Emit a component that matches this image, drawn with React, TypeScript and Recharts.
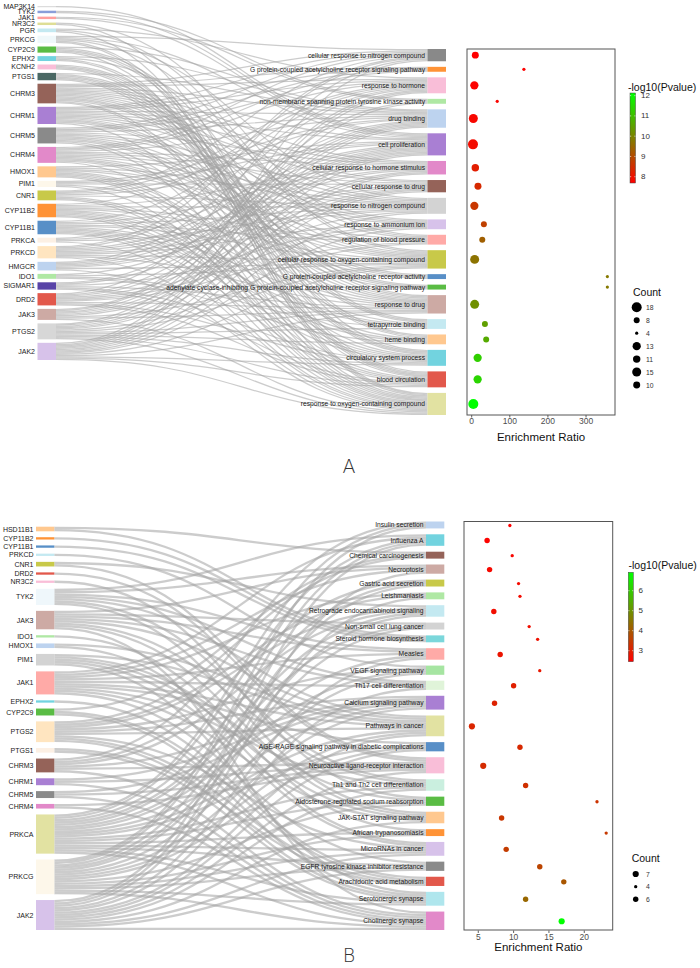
import React from 'react';
import { Sankey, ScatterChart, Scatter, XAxis, YAxis, ZAxis } from 'recharts';

const FONT = '"Liberation Sans", Arial, Helvetica, sans-serif';

/* ======================= Panel A data ======================= */
const genesA = ['MAP3K14', 'TYK2', 'JAK1', 'NR3C2', 'PGR', 'PRKCG', 'CYP2C9', 'EPHX2', 'KCNH2', 'PTGS1', 'CHRM3', 'CHRM1', 'CHRM5', 'CHRM4', 'HMOX1', 'PIM1', 'CNR1', 'CYP11B2', 'CYP11B1', 'PRKCA', 'PRKCD', 'HMGCR', 'IDO1', 'SIGMAR1', 'DRD2', 'JAK3', 'PTGS2', 'JAK2'];
const termsA = [
  'cellular response to nitrogen compound',
  'G protein-coupled acetylcholine receptor signaling pathway',
  'response to hormone',
  'non-membrane spanning protein tyrosine kinase activity',
  'drug binding',
  'cell proliferation',
  'cellular response to hormone stimulus',
  'cellular response to drug',
  'response to nitrogen compound',
  'response to ammonium ion',
  'regulation of blood pressure',
  'cellular response to oxygen-containing compound',
  'G protein-coupled acetylcholine receptor activity',
  'adenylate cyclase-inhibiting G protein-coupled acetylcholine receptor signaling pathway',
  'response to drug',
  'tetrapyrrole binding',
  'heme binding',
  'circulatory system process',
  'blood circulation',
  'response to oxygen-containing compound',
];
// gene -> term numbers (1-based, order of termsA)
const geneTermsA: [string, number[]][] = [
  ['MAP3K14', [6]],
  ['TYK2', [4, 6]],
  ['JAK1', [4, 6]],
  ['NR3C2', [11, 18]],
  ['PGR', [3, 12, 20]],
  ['PRKCG', [1, 6, 9, 12, 19, 20]],
  ['CYP2C9', [5, 15, 16, 17, 20]],
  ['EPHX2', [5, 11, 18, 19]],
  ['KCNH2', [16, 17, 18, 19]],
  ['PTGS1', [5, 15, 16, 17, 18, 19]],
  ['CHRM3', [1, 2, 3, 5, 6, 7, 8, 9, 10, 11, 12, 13, 14, 15, 19, 20]],
  ['CHRM1', [1, 2, 3, 5, 6, 7, 8, 9, 10, 12, 13, 14, 15, 20]],
  ['CHRM5', [1, 2, 3, 5, 7, 9, 10, 12, 13, 14, 15, 18, 20]],
  ['CHRM4', [1, 2, 3, 5, 7, 8, 9, 10, 12, 13, 14, 15, 20]],
  ['HMOX1', [6, 9, 11, 12, 16, 17, 18, 19, 20]],
  ['PIM1', [5, 6, 8, 15, 20]],
  ['CNR1', [1, 3, 5, 6, 9, 18, 19, 20]],
  ['CYP11B2', [3, 7, 9, 11, 12, 15, 16, 17, 18, 19, 20]],
  ['CYP11B1', [3, 7, 9, 11, 12, 15, 16, 17, 18, 19, 20]],
  ['PRKCA', [1, 6, 9, 20]],
  ['PRKCD', [1, 3, 6, 7, 8, 9, 10, 12, 15, 20]],
  ['HMGCR', [3, 5, 6, 7, 8, 12, 20]],
  ['IDO1', [6, 12, 16, 17]],
  ['SIGMAR1', [5, 6, 10, 15, 18, 19]],
  ['DRD2', [1, 5, 6, 8, 9, 10, 11, 15, 18, 19]],
  ['JAK3', [3, 4, 5, 6, 7, 8, 12, 15, 20]],
  ['PTGS2', [3, 5, 6, 7, 8, 11, 12, 15, 16, 17, 18, 19, 20]],
  ['JAK2', [1, 3, 4, 5, 6, 7, 8, 9, 10, 12, 15, 18, 19, 20]],
];
const enrichA = [9.5, 137, 7, 67, 4.3, 3.4, 9.5, 16.5, 7, 32, 27.8, 7.8, 356, 356, 7.8, 34.7, 38, 15.6, 15.6, 4.3];
const log10pA = [7.69, 7.72, 7.75, 7.78, 7.82, 7.9, 8.2, 8.4, 8.65, 8.8, 9.35, 9.7, 9.8, 9.8, 10.2, 10.45, 10.65, 11.3, 11.4, 12.13];
const countA = [10, 4, 13, 4, 15, 18, 11, 10, 13, 8, 8, 15, 4, 4, 15, 8, 8, 13, 13, 18];
const countLegendA = [18, 8, 4, 13, 11, 15, 10];
const xTicksA = [0, 100, 200, 300];
const colorTicksA = [8, 9, 10, 11, 12];
const colorRangeA: [number, number] = [7.69, 12.13];

/* ======================= Panel B data ======================= */
const genesB = ['HSD11B1', 'CYP11B2', 'CYP11B1', 'PRKCD', 'CNR1', 'DRD2', 'NR3C2', 'TYK2', 'JAK3', 'IDO1', 'HMOX1', 'PIM1', 'JAK1', 'EPHX2', 'CYP2C9', 'PTGS2', 'PTGS1', 'CHRM3', 'CHRM1', 'CHRM5', 'CHRM4', 'PRKCA', 'PRKCG', 'JAK2'];
const termsB = [
  'Insulin secretion',
  'Influenza A',
  'Chemical carcinogenesis',
  'Necroptosis',
  'Gastric acid secretion',
  'Leishmaniasis',
  'Retrograde endocannabinoid signaling',
  'Non-small cell lung cancer',
  'Steroid hormone biosynthesis',
  'Measles',
  'VEGF signaling pathway',
  'Th17 cell differentiation',
  'Calcium signaling pathway',
  'Pathways in cancer',
  'AGE-RAGE signaling pathway in diabetic complications',
  'Neuroactive ligand-receptor interaction',
  'Th1 and Th2 cell differentiation',
  'Aldosterone-regulated sodium reabsorption',
  'JAK-STAT signaling pathway',
  'African trypanosomiasis',
  'MicroRNAs in cancer',
  'EGFR tyrosine kinase inhibitor resistance',
  'Arachidonic acid metabolism',
  'Serotonergic synapse',
  'Cholinergic synapse',
];
const geneTermsB: [string, number[]][] = [
  ['HSD11B1', [3, 9]],
  ['CYP11B2', [9]],
  ['CYP11B1', [9]],
  ['PRKCD', [11]],
  ['CNR1', [7, 16]],
  ['DRD2', [16]],
  ['NR3C2', [18]],
  ['TYK2', [2, 4, 10, 12, 14, 17, 19]],
  ['JAK3', [4, 8, 10, 12, 14, 17, 19, 25]],
  ['IDO1', [20]],
  ['HMOX1', [14, 21]],
  ['PIM1', [14, 18, 19, 21, 24]],
  ['JAK1', [2, 4, 6, 10, 12, 14, 15, 17, 19, 22]],
  ['EPHX2', [23]],
  ['CYP2C9', [3, 23, 24]],
  ['PTGS2', [3, 6, 7, 11, 13, 14, 21, 23, 24]],
  ['PTGS1', [23, 24]],
  ['CHRM3', [1, 5, 7, 13, 16, 25]],
  ['CHRM1', [13, 16, 25]],
  ['CHRM5', [13, 16, 25]],
  ['CHRM4', [16, 25]],
  ['PRKCA', [1, 2, 5, 7, 8, 10, 11, 13, 14, 15, 17, 18, 20, 21, 22, 24, 25]],
  ['PRKCG', [1, 2, 5, 7, 8, 11, 13, 14, 15, 18, 20, 21, 22, 24, 25]],
  ['JAK2', [2, 4, 6, 10, 12, 14, 15, 16, 17, 19, 21, 22, 25]],
];
const enrichB = [9.47, 6.25, 9.8, 6.6, 10.7, 10.9, 7.2, 12.2, 13.4, 8.1, 13.7, 10.0, 7.3, 4.1, 10.9, 5.7, 11.7, 21.8, 8.3, 23.1, 8.95, 13.7, 17.1, 11.7, 16.8];
const log10pB = [2.45, 2.5, 2.55, 2.6, 2.62, 2.65, 2.68, 2.7, 2.75, 2.8, 2.85, 3.0, 3.05, 3.1, 3.15, 3.2, 3.3, 3.35, 3.4, 3.45, 3.5, 3.65, 3.95, 4.25, 6.92];
const countB = [4, 6, 4, 6, 4, 4, 6, 4, 4, 6, 4, 6, 6, 7, 6, 7, 6, 4, 6, 4, 6, 6, 6, 6, 7];
const countLegendB = [7, 4, 6];
const xTicksB = [5, 10, 15, 20];
const colorTicksB = [3, 4, 5, 6];
const colorRangeB: [number, number] = [2.45, 6.92];

/* ======================= Styles ======================= */
const geneColorsA = ['#d9d9d9', '#7f96d6', '#ff9896', '#dbdb8d', '#bfe7f0', '#eef7fa', '#4cb634', '#66cfdc', '#f9b9d5', '#3b5b57', '#8c564b', '#a274cf', '#808080', '#e07fc4', '#ffc386', '#fdf6e8', '#c3c43a', '#ff8a25', '#4a86c2', '#fcefe2', '#ffe3bb', '#b7cfee', '#a8e69c', '#4a33a0', '#e04a3c', '#c9a39c', '#d4d4d4', '#d4bde8'];
const termColorsA = ['#7f7f7f', '#ff8a25', '#f9b9d5', '#a8e69c', '#b7cfee', '#a274cf', '#e07fc4', '#8c564b', '#cfcfcf', '#d4bde8', '#ffa3a0', '#c3c43a', '#4a86c2', '#4cb634', '#c9a39c', '#bfe7f0', '#ffc386', '#66cfdc', '#e04a3c', '#e0e09a'];
const geneColorsB = ['#ffc386', '#ff8a25', '#4a86c2', '#bfe7f0', '#c3c43a', '#e04a3c', '#f9b9d5', '#eef6fb', '#c9a39c', '#a8e69c', '#b7cfee', '#cfcfcf', '#ffa3a0', '#66cfdc', '#4cb634', '#ffe3bb', '#fcefe2', '#8c564b', '#a274cf', '#808080', '#e07fc4', '#e0e09a', '#fdf6e8', '#d4bde8'];
const termColorsB = ['#b7cfee', '#66cfdc', '#8c564b', '#c9a39c', '#c3c43a', '#a8e69c', '#bfe7f0', '#cfcfcf', '#70d4d8', '#ffa3a0', '#9ee39a', '#ddf3d6', '#a274cf', '#e0e09a', '#4a86c2', '#f9b9d5', '#c6eedc', '#4cb634', '#ffc386', '#ff8a25', '#d4bde8', '#808080', '#e04a3c', '#a8e4ec', '#e07fc4'];

const geomA = {
  divTop: 0, top: 6, H: 354, pad: 3.48, left: 37.5, nodeW: 18.5, innerW: 408.5, width: 450, height: 425,
  leftSpan: [6, 360], rightSpan: [49, 415],
  frame: { x: 467, y: 49, w: 148, h: 366 }, xDomain: [-12.3, 376],
  zDomain: [4, 18], areaRange: [Math.PI * 1.6 * 1.6, Math.PI * 5.0 * 5.0],
  bar: { x: 630, y: 93, w: 5.5, h: 90, labelX: 641 }, barTitle: { x: 628, y: 86.5 },
  count: { titleX: 633, titleY: 292, y0: 307.3, step: 12.95, cx: 636.7, labelX: 646 },
  xTitleY: 436.5, letter: 'A', letterY: 466,
};
const geomB = {
  divTop: 470, top: 521.5, H: 408.5, pad: 5.88, left: 36, nodeW: 18.3, innerW: 408.3, width: 450, height: 470,
  leftSpan: [526.7, 930], rightSpan: [521.5, 930],
  frame: { x: 464, y: 521.5, w: 148.7, h: 408.5 }, xDomain: [2.98, 24.02],
  zDomain: [4, 7], areaRange: [Math.PI * 1.65 * 1.65, Math.PI * 3.1 * 3.1],
  bar: { x: 628.3, y: 572.3, w: 5, h: 89.4, labelX: 638.5 }, barTitle: { x: 628.5, y: 565 },
  count: { titleX: 631.7, titleY: 858.3, y0: 874, step: 12.65, cx: 635.7, labelX: 646 },
  xTitleY: 947, letter: 'B', letterY: 955,
};

const panelA = { genes: genesA, terms: termsA, geneTerms: geneTermsA, enrich: enrichA, logp: log10pA, count: countA, countLegend: countLegendA, xTicks: xTicksA, colorTicks: colorTicksA, colorRange: colorRangeA, geneColors: geneColorsA, termColors: termColorsA, geom: geomA, id: 'a' };
const panelB = { genes: genesB, terms: termsB, geneTerms: geneTermsB, enrich: enrichB, logp: log10pB, count: countB, countLegend: countLegendB, xTicks: xTicksB, colorTicks: colorTicksB, colorRange: colorRangeB, geneColors: geneColorsB, termColors: termColorsB, geom: geomB, id: 'b' };

/* ======================= Helpers ======================= */
function pColor(v: number, range: [number, number]) {
  const t = Math.max(0, Math.min(1, (v - range[0]) / (range[1] - range[0])));
  return `rgb(${Math.round(255 * (1 - t))},${Math.round(255 * t)},0)`;
}

function areaOf(c: number, g: any) {
  const [d0, d1] = g.zDomain;
  const [a0, a1] = g.areaRange;
  return a0 + ((c - d0) / (d1 - d0)) * (a1 - a0);
}

function buildLayout(p: any) {
  const g = p.geom;
  const nodes = [...p.genes.map((n: string) => ({ name: n })), ...p.terms.map((n: string) => ({ name: n }))];
  const links: any[] = [];
  p.geneTerms.forEach(([gene, ts]: [string, number[]]) => {
    const s = p.genes.indexOf(gene);
    ts.forEach((t) => links.push({ source: s, target: p.genes.length + t - 1, value: 1 }));
  });
  const termTot = p.terms.map(() => 0);
  links.forEach((l) => { termTot[l.target - p.genes.length] += l.value; });
  const total = links.reduce((a, l) => a + l.value, 0);
  const ky = Math.min((g.H - (p.genes.length - 1) * g.pad) / total, (g.H - (p.terms.length - 1) * g.pad) / total);
  const col = (n: number, span: number[]) => {
    const gap = (span[1] - span[0] - total * ky) / (n - 1);
    return { base: span[0] - g.top, extra: gap - g.pad, gap };
  };
  const L = col(p.genes.length, g.leftSpan);
  const R = col(p.terms.length, g.rightSpan);
  let cum = 0;
  const centers = termTot.map((v: number, i: number) => {
    const c = g.rightSpan[0] - g.frame.y + cum * ky + i * R.gap + (v * ky) / 2;
    cum += v;
    return c;
  });
  return { data: { nodes, links }, L, R, centers };
}

function SankeyPanel({ p }: any) {
  const g = p.geom;
  const lay = React.useMemo(() => buildLayout(p), [p]);
  const off = (name: string) => {
    const gi = p.genes.indexOf(name);
    if (gi >= 0) return lay.L.base + gi * lay.L.extra;
    return lay.R.base + p.terms.indexOf(name) * lay.R.extra;
  };
  const renderNode = (props: any) => {
    const { x, y, width, height, payload } = props;
    const name = payload && payload.name;
    const gi = p.genes.indexOf(name);
    const isGene = gi >= 0;
    const idx = isGene ? gi : p.terms.indexOf(name);
    const yy = y + off(name);
    const fill = (isGene ? p.geneColors : p.termColors)[idx];
    return (
      <g>
        <rect x={x} y={yy} width={width} height={height} fill={fill} fillOpacity={0.92} />
        <text x={x - 2.5} y={yy + height / 2} textAnchor="end" dominantBaseline="central" fontSize={isGene ? 7 : 6.7} fontFamily={FONT} fill="#1a1a1a">
          {name}
        </text>
      </g>
    );
  };
  const renderLink = (props: any) => {
    const { sourceX, targetX, sourceY, targetY, sourceControlX, targetControlX, linkWidth, payload } = props;
    const sName = payload.source && typeof payload.source === 'object' ? payload.source.name : lay.data.nodes[payload.source].name;
    const tName = payload.target && typeof payload.target === 'object' ? payload.target.name : lay.data.nodes[payload.target].name;
    const sy = sourceY + off(sName);
    const ty = targetY + off(tName);
    return (
      <path
        d={`M${sourceX},${sy}C${sourceControlX},${sy} ${targetControlX},${ty} ${targetX},${ty}`}
        fill="none"
        stroke="#a2a2a2"
        strokeWidth={linkWidth}
        strokeOpacity={0.55}
      />
    );
  };
  const localTop = g.top - g.divTop;
  return (
    <div style={{ position: 'absolute', left: 0, top: g.divTop, width: g.width, height: g.height }}>
      <Sankey
        width={g.width}
        height={g.height}
        data={lay.data}
        nodeWidth={g.nodeW}
        nodePadding={g.pad}
        iterations={0}
        sort={false}
        margin={{ top: localTop, left: g.left, right: g.width - g.left - g.innerW, bottom: g.height - localTop - g.H }}
        node={renderNode}
        link={renderLink}
      />
    </div>
  );
}

function DotPanel({ p }: any) {
  const g = p.geom;
  const lay = React.useMemo(() => buildLayout(p), [p]);
  const data = p.terms.map((t: string, i: number) => ({ term: t, ratio: p.enrich[i], pos: lay.centers[i], count: p.count[i], lp: p.logp[i] }));
  return (
    <div style={{ position: 'absolute', left: g.frame.x, top: g.frame.y, width: g.frame.w, height: g.frame.h + 30 }}>
      <ScatterChart width={g.frame.w} height={g.frame.h + 30} margin={{ top: 0, right: 0, bottom: 0, left: 0 }}>
        <XAxis
          type="number"
          dataKey="ratio"
          domain={g.xDomain}
          ticks={p.xTicks}
          allowDataOverflow
          interval={0}
          axisLine={false}
          tickLine={{ stroke: '#333', strokeWidth: 0.8 }}
          tickSize={2.5}
          tickMargin={0.5}
          height={30}
          tick={{ fontSize: 8.5, fill: '#4d4d4d', fontFamily: FONT }}
        />
        <YAxis type="number" dataKey="pos" domain={[0, g.frame.h]} reversed hide width={0} allowDataOverflow />
        <ZAxis type="number" dataKey="count" domain={g.zDomain} range={g.areaRange} />
        <Scatter
          data={data}
          isAnimationActive={false}
          shape={(sp: any) => {
            const r = sp.size != null ? Math.sqrt(sp.size / Math.PI) : sp.width / 2;
            return <circle cx={sp.cx} cy={sp.cy} r={r} fill={pColor(sp.payload.lp, p.colorRange)} />;
          }}
        />
      </ScatterChart>
    </div>
  );
}

function Decorations({ p }: any) {
  const g = p.geom;
  const b = g.bar;
  const [lo, hi] = p.colorRange;
  const yOf = (v: number) => b.y + b.h - ((v - lo) / (hi - lo)) * b.h;
  const gid = 'grad-' + p.id;
  return (
    <g fontFamily={FONT}>
      <defs>
        <linearGradient id={gid} x1="0" y1="1" x2="0" y2="0">
          <stop offset="0" stopColor="#ff0000" />
          <stop offset="1" stopColor="#00ff00" />
        </linearGradient>
      </defs>
      <rect x={g.frame.x} y={g.frame.y} width={g.frame.w} height={g.frame.h} fill="none" stroke="#555" strokeWidth={1} />
      <text x={g.frame.x + g.frame.w / 2} y={g.xTitleY} textAnchor="middle" dominantBaseline="central" fontSize={11.5} fill="#111">
        Enrichment Ratio
      </text>
      <text x={g.barTitle.x} y={g.barTitle.y} dominantBaseline="central" fontSize={10.5} fill="#111">
        -log10(Pvalue)
      </text>
      <rect x={b.x} y={b.y} width={b.w} height={b.h} fill={`url(#${gid})`} stroke="#444" strokeWidth={0.5} />
      {p.colorTicks.map((v: number) => (
        <g key={v}>
          <line x1={b.x} x2={b.x + 1.2} y1={yOf(v)} y2={yOf(v)} stroke="#fff" strokeWidth={0.6} />
          <line x1={b.x + b.w - 1.2} x2={b.x + b.w} y1={yOf(v)} y2={yOf(v)} stroke="#fff" strokeWidth={0.6} />
          <text x={b.labelX} y={yOf(v)} dominantBaseline="central" fontSize={8} fill="#333">
            {v}
          </text>
        </g>
      ))}
      <text x={g.count.titleX} y={g.count.titleY} dominantBaseline="central" fontSize={10.5} fill="#111">
        Count
      </text>
      {p.countLegend.map((c: number, i: number) => (
        <g key={i}>
          <circle cx={g.count.cx} cy={g.count.y0 + i * g.count.step} r={Math.sqrt(areaOf(c, g) / Math.PI)} fill="#000" />
          <text x={g.count.labelX} y={g.count.y0 + i * g.count.step} dominantBaseline="central" fontSize={6.8} fill="#333">
            {c}
          </text>
        </g>
      ))}
      <text x={349} y={g.letterY} textAnchor="middle" dominantBaseline="central" fontSize={19} fontWeight={300} fontFamily='"DejaVu Sans", sans-serif' fill="#333">
        {g.letter}
      </text>
    </g>
  );
}

export default function App() {
  return (
    <div style={{ position: 'relative', width: 700, height: 968, background: '#fff', overflow: 'hidden' }}>
      <style>{'body{margin:0}'}</style>
      <SankeyPanel p={panelA} />
      <SankeyPanel p={panelB} />
      <DotPanel p={panelA} />
      <DotPanel p={panelB} />
      <svg width={700} height={968} style={{ position: 'absolute', left: 0, top: 0, pointerEvents: 'none' }}>
        <Decorations p={panelA} />
        <Decorations p={panelB} />
      </svg>
    </div>
  );
}
